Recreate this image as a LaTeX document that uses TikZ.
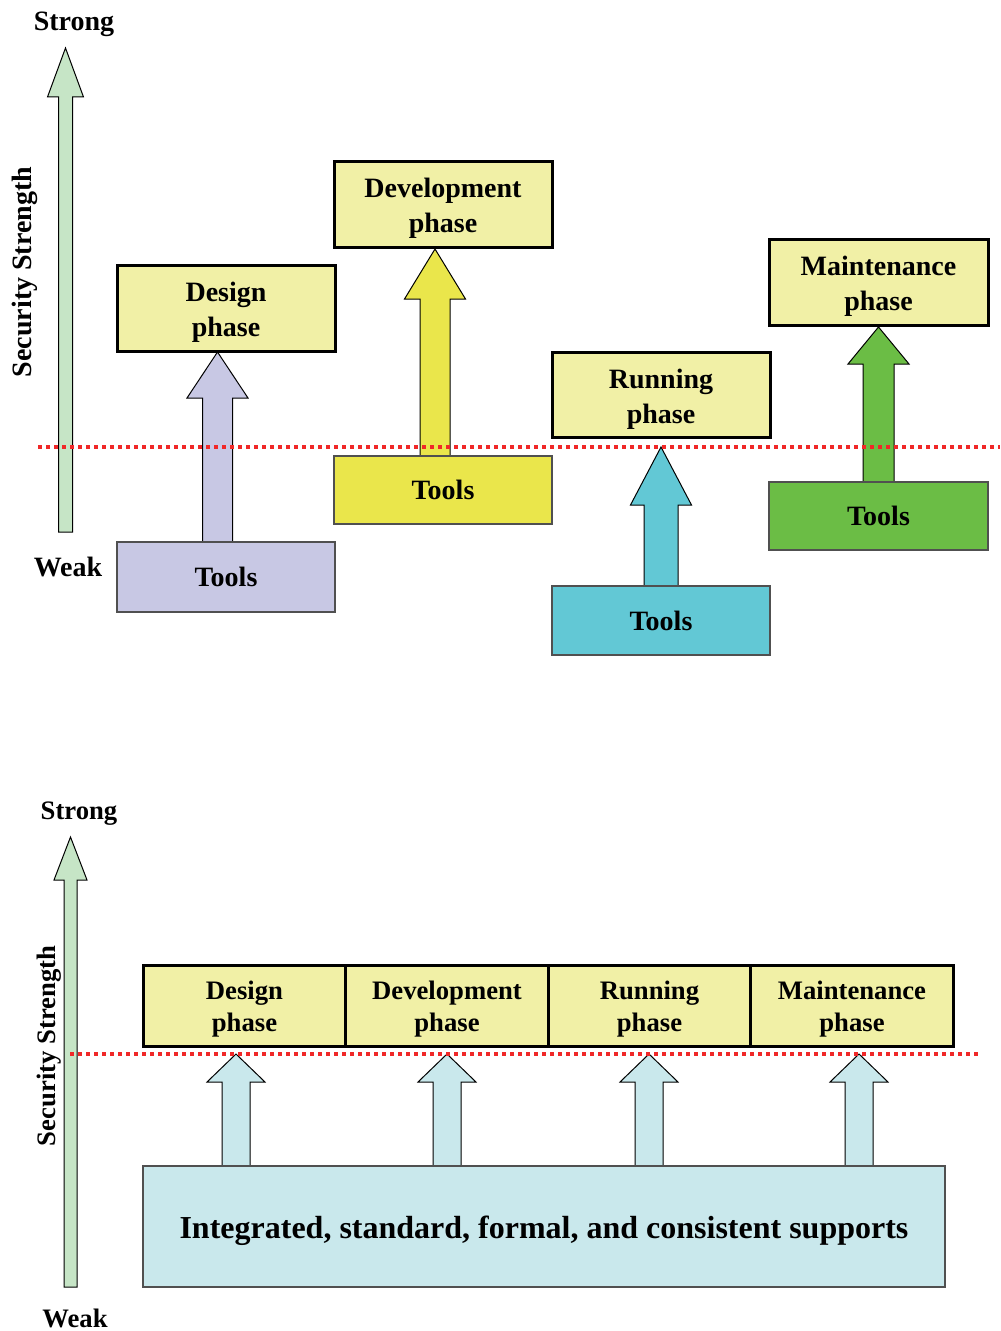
\documentclass[tikz,border=0pt]{standalone}
\usepackage{fontspec}
\setmainfont{Liberation Serif}
\begin{document}
\begin{tikzpicture}[x=0.75pt,y=-0.75pt,
  phasebox/.style={draw=black, line width=2.25pt, fill=phaseyellow, inner sep=0pt},
  phasetext/.style={inner sep=0pt, align=center, font=\fontsize{21}{26}\selectfont\bfseries},
  phaserow/.style={draw=black, line width=2.25pt, fill=phaseyellow, inner sep=0pt,
    minimum width=152pt, minimum height=60.75pt},
  rowtext/.style={inner sep=0pt, align=center, font=\fontsize{20}{24}\selectfont\bfseries},
  toolbox/.style={draw=boxgray, line width=0.9pt, inner sep=0pt, align=center,
    minimum width=163.5pt, font=\fontsize{21}{26}\selectfont\bfseries},
  blockarrow/.style={draw=black, line width=0.75pt},
  axislabel/.style={font=\fontsize{21}{26}\selectfont\bfseries, inner sep=0pt},
  axislabelb/.style={font=\fontsize{20}{24}\selectfont\bfseries, inner sep=0pt},
  reddots/.style={draw=reddot, line width=2.9pt, dash pattern=on 3pt off 3pt}
]
\definecolor{phaseyellow}{HTML}{F1F0A6}
\definecolor{lavender}{HTML}{C8C8E4}
\definecolor{devyellow}{HTML}{EAE64B}
\definecolor{runcyan}{HTML}{62C8D5}
\definecolor{maintgreen}{HTML}{6BBD45}
\definecolor{axisgreen}{HTML}{C6E5C6}
\definecolor{lightblue}{HTML}{C9E8EC}
\definecolor{reddot}{HTML}{F02828}
\definecolor{boxgray}{HTML}{505050}
\newcommand{\barrow}[7]{% cx, tip, headbase, bottom, halfhead, halfshaft, color
  \draw[blockarrow, fill=#7] ({#1-#6},#4) -- ({#1-#6},#3) -- ({#1-#5},#3) -- (#1,#2)
    -- ({#1+#5},#3) -- ({#1+#6},#3) -- ({#1+#6},#4) -- cycle;}
\useasboundingbox (0,0) rectangle (1000,1331);

% ---------- top section ----------
\node[axislabel] (strongA) at (74,24) {Strong};
\node[axislabel] (weakA) at (68,567) {Weak};
\node[axislabel, rotate=90] (secA) at (25,272) {Security Strength};
\barrow{65.5}{48}{97}{532}{18}{7}{axisgreen}

\barrow{217.5}{352}{398}{542}{30.5}{15}{lavender}
\barrow{435}{249}{299}{456}{30.5}{15}{devyellow}
\barrow{661}{447}{505}{586}{30.5}{17}{runcyan}
\barrow{878.5}{327}{364}{482}{30.5}{15.5}{maintgreen}

\node[phasebox, minimum width=163.5pt, minimum height=64.5pt] (dphase) at (226,308) {};
\node[phasetext] (dphaseT) at ([yshift=-3pt]dphase.center) {Design\\phase};
\node[toolbox, fill=lavender, minimum height=52.5pt] (dtools) at (226,577) {Tools};
\node[phasebox, minimum width=163.5pt, minimum height=64.5pt] (vphase) at (443,204) {};
\node[phasetext] (vphaseT) at ([yshift=-3pt]vphase.center) {Development\\phase};
\node[toolbox, fill=devyellow, minimum height=51pt] (vtools) at (443,490) {Tools};
\node[phasebox, minimum width=163.5pt, minimum height=63.75pt] (rphase) at (661,394.5) {};
\node[phasetext] (rphaseT) at ([yshift=-3.5pt]rphase.center) {Running\\phase};
\node[toolbox, fill=runcyan, minimum height=51.75pt] (rtools) at (661,620.5) {Tools};
\node[phasebox, minimum width=164.25pt, minimum height=64.5pt] (mphase) at (878.5,282) {};
\node[phasetext] (mphaseT) at ([yshift=-3pt]mphase.center) {Maintenance\\phase};
\node[toolbox, fill=maintgreen, minimum width=164.25pt, minimum height=51pt] (mtools) at (878.5,516) {Tools};

\coordinate (lineAl) at (38,447);
\coordinate (lineAr) at (1000,447);
\draw[reddots] (lineAl) -- (lineAr);

% ---------- bottom section ----------
\node[axislabelb] (strongB) at (79,814) {Strong};
\node[axislabelb] (weakB) at (75,1318) {Weak};
\node[axislabelb, rotate=90] (secB) at (49,1046) {Security Strength};
\barrow{70.5}{837}{880}{1287}{16.5}{6.5}{axisgreen}

\node[phaserow] (bdesign) at (244.5,1005.5) {};
\node[rowtext] at ([yshift=-3pt]bdesign.center) {Design\\phase};
\node[phaserow] (bdev) at (447,1005.5) {};
\node[rowtext] at ([yshift=-3pt]bdev.center) {Development\\phase};
\node[phaserow] (brun) at (649.5,1005.5) {};
\node[rowtext] at ([yshift=-3pt]brun.center) {Running\\phase};
\node[phaserow] (bmaint) at (852,1005.5) {};
\node[rowtext] at ([yshift=-3pt]bmaint.center) {Maintenance\\phase};

\barrow{236}{1054}{1082}{1166}{29}{14}{lightblue}
\barrow{447}{1054}{1082}{1166}{29}{14}{lightblue}
\barrow{649}{1054}{1082}{1166}{29}{14}{lightblue}
\barrow{859}{1054}{1082}{1166}{29}{14}{lightblue}

\node[draw=boxgray, line width=0.9pt, fill=lightblue, inner sep=0pt, minimum width=601.5pt,
  minimum height=90.75pt] (support) at (544,1226.5) {};
\node[inner sep=0pt, font=\fontsize{24}{28}\selectfont\bfseries] (supportT)
  at ([yshift=-3.5pt]support.center) {Integrated, standard, formal, and consistent supports};

\coordinate (lineBl) at (70,1054);
\coordinate (lineBr) at (978,1054);
\draw[reddots] (lineBl) -- (lineBr);
\end{tikzpicture}
\end{document}
